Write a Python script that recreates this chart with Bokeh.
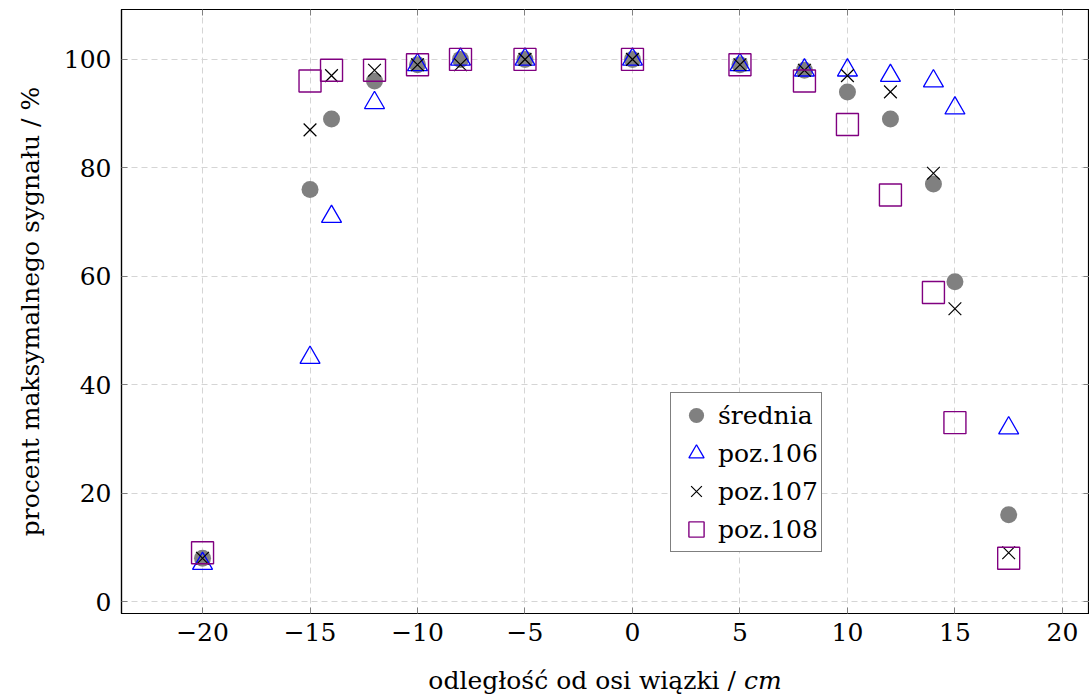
from bokeh.plotting import figure
from bokeh.models import Range1d, FixedTicker, LinearAxis, Legend, LegendItem, Div
from bokeh.layouts import column
from bokeh.embed import file_html
from bokeh.resources import INLINE

x_pos = [-20, -15, -14, -12, -10, -8, -5, 0, 5, 8, 10, 12, 14, 15, 17.5]
srednia = [8, 76, 89, 96, 99, 100, 100, 100, 99, 98, 94, 89, 77, 59, 16]
poz106 = [7, 45, 71, 92, 99, 100, 100, 100, 99, 98, 98, 97, 96, 91, 32]
poz107 = [8, 87, 97, 98, 99, 99, 100, 100, 99, 98, 97, 94, 79, 54, 9]
poz108 = [9, 96, 98, 98, 99, 100, 100, 100, 99, 96, 88, 75, 57, 33, 8]

x_ticks = [-20, -15, -10, -5, 0, 5, 10, 15, 20]
y_ticks = [0, 20, 40, 60, 80, 100]
x_tick_labels = ["−20", "−15", "−10", "−5", "0", "5", "10", "15", "20"]

FONT = "DejaVu Serif"
FS = "25px"

p = figure(width=1089, height=664, output_backend="svg", toolbar_location=None,
           x_range=Range1d(-23.77, 21.26), y_range=Range1d(-2.2, 109.2),
           min_border_left=121, min_border_right=0, min_border_top=9, min_border_bottom=51)
p.background_fill_color = "white"
p.border_fill_color = "white"
p.outline_line_color = "black"
p.outline_line_width = 1.2

for ax in [p.xaxis[0], p.yaxis[0]]:
    ax.major_tick_in = 6
    ax.major_tick_out = 0
    ax.minor_tick_in = 0
    ax.minor_tick_out = 0
    ax.major_tick_line_color = "#808080"
    ax.axis_line_color = "black"
    ax.axis_line_width = 1.2
    ax.major_label_text_font = FONT
    ax.major_label_text_font_size = FS
    ax.major_label_text_color = "black"
    ax.axis_label_text_font = FONT
    ax.axis_label_text_font_size = FS
    ax.axis_label_text_font_style = "normal"
    ax.axis_label_text_color = "black"

p.xaxis[0].ticker = FixedTicker(ticks=x_ticks)
p.xaxis[0].major_label_overrides = {t: l for t, l in zip(x_ticks, x_tick_labels)}
p.xaxis[0].major_label_standoff = 9
p.yaxis[0].ticker = FixedTicker(ticks=y_ticks)
p.yaxis[0].major_label_standoff = 10
p.yaxis[0].axis_label = "procent maksymalnego sygnału / %"
p.yaxis[0].axis_label_standoff = 16

# mirrored ticks (no labels)
top = LinearAxis(ticker=FixedTicker(ticks=x_ticks),
                 major_label_overrides={t: "" for t in x_ticks},
                 major_tick_in=6, major_tick_out=0, minor_tick_in=0, minor_tick_out=0,
                 major_tick_line_color="#808080", axis_line_color="black", major_label_standoff=0)
right = LinearAxis(ticker=FixedTicker(ticks=y_ticks),
                   major_label_overrides={t: "" for t in y_ticks},
                   major_tick_in=6, major_tick_out=0, minor_tick_in=0, minor_tick_out=0,
                   major_tick_line_color="#808080", axis_line_color="black", major_label_standoff=0)
p.add_layout(top, "above")
p.add_layout(right, "right")

p.xgrid.ticker = FixedTicker(ticks=x_ticks)
p.ygrid.ticker = FixedTicker(ticks=y_ticks)
for g in [p.xgrid[0], p.ygrid[0]]:
    g.grid_line_color = "#d5d5d5"
    g.grid_line_dash = "6 4"
    g.grid_line_width = 1

r1 = p.scatter(x_pos, srednia, marker="circle", size=17, fill_color="#808080", line_color=None)
r2 = p.scatter(x_pos, poz106, marker="triangle", size=20, fill_color=None, line_color="#0000ff", line_width=1.3)
r3 = p.scatter(x_pos, poz107, marker="x", size=18, line_color="black", line_width=1.2)
r4 = p.scatter(x_pos, poz108, marker="square", size=22, fill_color=None, line_color="#800080", line_width=1.4)

legend = Legend(items=[
    LegendItem(label="średnia", renderers=[r1]),
    LegendItem(label="poz.106", renderers=[r2]),
    LegendItem(label="poz.107", renderers=[r3]),
    LegendItem(label="poz.108", renderers=[r4]),
], location=(549, 61))
legend.label_text_font = FONT
legend.label_text_font_size = FS
legend.label_text_color = "black"
legend.label_height = 30
legend.glyph_height = 38
legend.glyph_width = 44
legend.label_standoff = -10
legend.spacing = 0
legend.padding = 3
legend.margin = 0
legend.border_line_color = "black"
legend.border_line_width = 1.2
legend.background_fill_alpha = 1
p.add_layout(legend, "center")

xlabel = Div(text="odległość od osi wiązki / <i>cm</i>", width=968, height=36,
             margin=(0, 0, 0, 121),
             styles={"font-family": "'DejaVu Serif', serif", "font-size": "25px",
                     "text-align": "center", "color": "black", "line-height": "34px",
                     "width": "968px"})

layout = column(p, xlabel, spacing=0)
open("out.html", "w").write(file_html(layout, INLINE))
